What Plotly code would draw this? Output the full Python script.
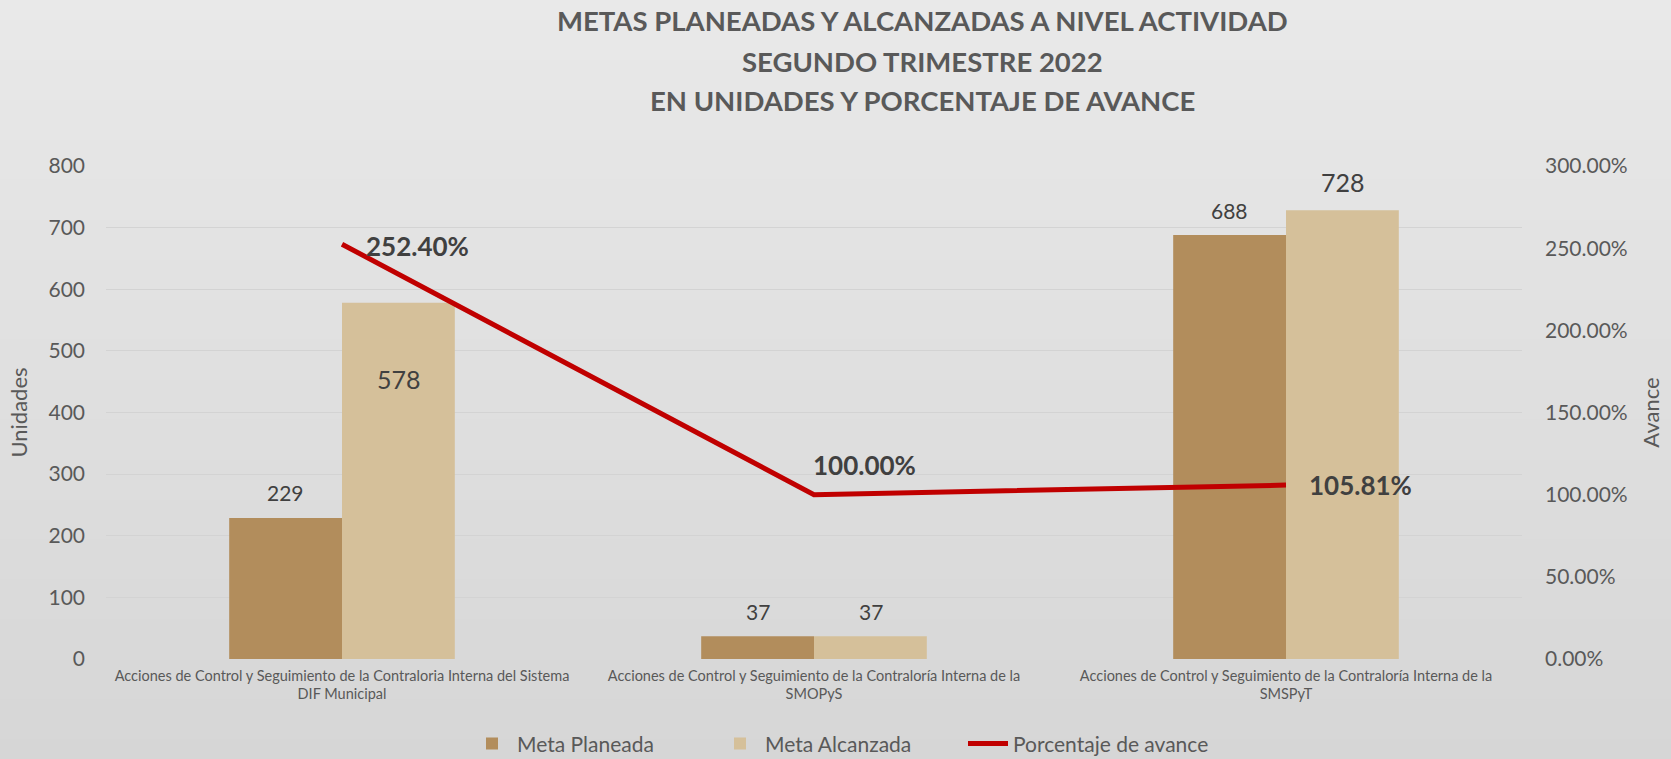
import plotly.graph_objects as go

categories = [
    "Acciones de Control y Seguimiento de la Contraloria Interna del Sistema DIF Municipal",
    "Acciones de Control y Seguimiento de la Contraloría Interna de la SMOPyS",
    "Acciones de Control y Seguimiento de la Contraloría Interna de la SMSPyT",
]
tick_labels = [
    "Acciones de Control y Seguimiento de la Contraloria Interna del Sistema<br>DIF Municipal",
    "Acciones de Control y Seguimiento de la Contraloría Interna de la<br>SMOPyS",
    "Acciones de Control y Seguimiento de la Contraloría Interna de la<br>SMSPyT",
]
meta_planeada = [229, 37, 688]
meta_alcanzada = [578, 37, 728]
porcentaje_avance = [2.524, 1.00, 1.0581]
porcentaje_labels = ["252.40%", "100.00%", "105.81%"]

W, H = 1671, 759
ML, MR, MT, MB = 106, 147, 166, 100
PH = H - MT - MB
PW = W - ML - MR

FONT = "Lato"
GRAY = "#595959"
DARK = "#404040"

fig = go.Figure()
fig.add_trace(go.Bar(x=categories, y=meta_planeada, name="Meta Planeada",
                     marker=dict(color="#B28D5C", line=dict(width=0)), yaxis="y"))
fig.add_trace(go.Bar(x=categories, y=meta_alcanzada, name="Meta Alcanzada",
                     marker=dict(color="#D5C09A", line=dict(width=0)), yaxis="y"))
fig.add_trace(go.Scatter(x=categories, y=porcentaje_avance, name="Porcentaje de avance",
                         mode="lines", line=dict(color="#C00000", width=5), yaxis="y2"))

# background gradient bands
n = 38
def py2paper(py):
    return (H - MB - py) / PH
shapes = []
for i in range(n):
    t = i / (n - 1)
    c = round(233 - (233 - 214) * t)
    shapes.append(dict(type="rect", xref="paper", yref="paper",
                       x0=-ML / PW - 0.01, x1=1 + MR / PW + 0.01,
                       y0=py2paper(H * (i + 1) / n) - 0.002, y1=py2paper(H * i / n),
                       fillcolor=f"rgb({c},{c},{c})", line=dict(width=0), layer="below"))

annotations = []
bar_px = 113
small_font = dict(family=FONT, size=21, color=DARK)
big_font = dict(family=FONT, size=25, color=DARK)
big_set = {(1, 0), (1, 2)}
for si, vals in enumerate([meta_planeada, meta_alcanzada]):
    for ci, v in enumerate(vals):
        xs = -bar_px / 2 if si == 0 else bar_px / 2
        big = (si, ci) in big_set
        ys = 28 if big else 25
        if (si, ci) == (1, 0):
            ys = -76
        annotations.append(dict(x=categories[ci], y=v, xref="x", yref="y", text=str(v),
                                showarrow=False, xshift=xs, yshift=ys, yanchor="middle",
                                font=big_font if big else small_font))
line_shifts = [(75, -2), (50, 30), (74, 0)]
for ci, (v, lab) in enumerate(zip(porcentaje_avance, porcentaje_labels)):
    annotations.append(dict(x=categories[ci], y=v, xref="x", yref="y2", text=f"<b>{lab}</b>",
                            showarrow=False, xshift=line_shifts[ci][0], yshift=line_shifts[ci][1],
                            yanchor="middle", font=dict(family=FONT, size=26, color=DARK)))

title_lines = ["METAS PLANEADAS Y ALCANZADAS A NIVEL ACTIVIDAD", "SEGUNDO TRIMESTRE 2022",
               "EN UNIDADES Y PORCENTAJE DE AVANCE"]
for i, tl in enumerate(title_lines):
    annotations.append(dict(x=(924 - ML) / PW, y=py2paper(21 + 40 * i), xref="paper", yref="paper",
                            text=f"<b>{tl}</b>", showarrow=False, yanchor="middle", xanchor="center",
                            font=dict(family=FONT, size=27.5, color=GRAY)))

fig.update_layout(
    width=W, height=H,
    margin=dict(l=ML, r=MR, t=MT, b=MB, pad=0),
    paper_bgcolor="#dedede", plot_bgcolor="rgba(0,0,0,0)",
    barmode="group", bargap=0.522, bargroupgap=0,
    font=dict(family=FONT, color=GRAY),
    shapes=shapes, annotations=annotations,
    showlegend=True,
    legend=dict(orientation="h", xref="container", yref="container", x=467 / W, xanchor="left",
                y=0.02, yanchor="middle", font=dict(family=FONT, size=21, color=GRAY),
                bgcolor="rgba(0,0,0,0)", itemwidth=40, tracegroupgap=0,
                entrywidth=193, entrywidthmode="pixels"),
    xaxis=dict(tickvals=categories, ticktext=tick_labels, showgrid=False, zeroline=False,
               showline=False, ticks="", tickfont=dict(family=FONT, size=14.5, color=GRAY),
               ticklabelstandoff=6),
    yaxis=dict(range=[0, 800], dtick=100, showgrid=True, gridcolor="#d3d3d3", gridwidth=1,
               zeroline=False, showline=False, ticks="", ticklabelstandoff=20,
               tickfont=dict(family=FONT, size=21, color=GRAY),
               title=dict(text="Unidades", font=dict(family=FONT, size=22, color=GRAY), standoff=14)),
    yaxis2=dict(range=[0, 3], dtick=0.5, tickformat=".2%", overlaying="y", side="right",
                showgrid=False, zeroline=False, showline=False, ticks="", ticklabelstandoff=22,
                tickfont=dict(family=FONT, size=21, color=GRAY),
                title=dict(text="Avance", font=dict(family=FONT, size=22, color=GRAY), standoff=16)),
)

fig.write_html("out.html", config={"displayModeBar": False},
               post_script="document.body.style.margin='0';document.body.style.padding='0';document.body.style.overflow='hidden';")
